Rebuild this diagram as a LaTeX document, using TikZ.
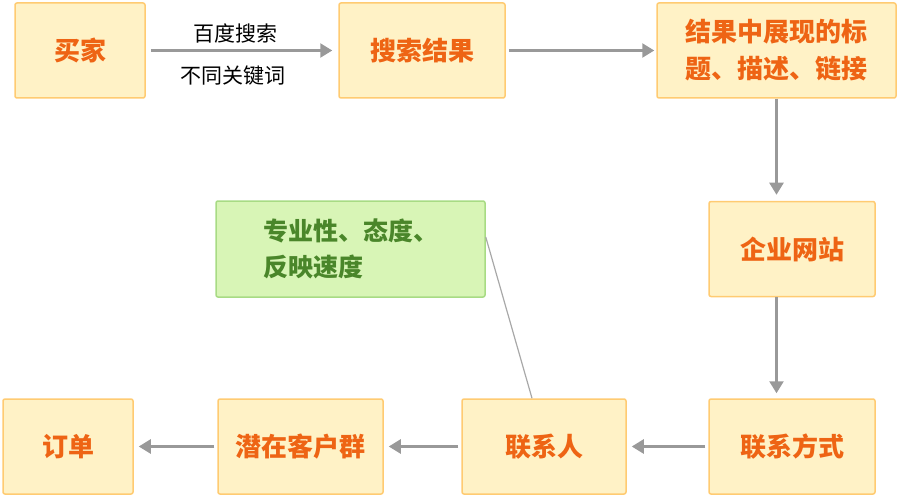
\documentclass[tikz,border=0pt]{standalone}
\usepackage{fontspec}
\setmainfont{Noto Sans CJK SC}
\usetikzlibrary{arrows.meta}

\definecolor{boxfill}{HTML}{FFF2C6}
\definecolor{boxline}{HTML}{FFCB72}
\definecolor{steptext}{HTML}{EE6414}
\definecolor{notefill}{HTML}{D8F5B6}
\definecolor{noteline}{HTML}{A8DB84}
\definecolor{notetext}{HTML}{4A862A}
\definecolor{flowgray}{HTML}{999999}

\tikzstyle{stepbox} = [draw=boxline, fill=boxfill, line width=1.5pt, rectangle, rounded corners=2pt, inner sep=0pt, minimum height=95pt, align=center, text=steptext, font=\fontsize{26}{37}\selectfont\bfseries]
\tikzstyle{notebox} = [draw=noteline, fill=notefill, line width=1.5pt, rectangle, rounded corners=2pt, inner sep=0pt, minimum width=269pt, minimum height=96pt, align=left, text=notetext, font=\fontsize{25}{36}\selectfont\bfseries]
\tikzstyle{flow} = [draw=flowgray, line width=2.4pt, shorten <=3pt, shorten >=5pt, -{Triangle[width=14pt,length=12pt]}]
\tikzstyle{edgelabel} = [font=\fontsize{21}{24}\selectfont, text=black]

\begin{document}
\begin{tikzpicture}[x=1pt, y=-1pt]
	\useasboundingbox (0,0) rectangle (900,500);
	\node [stepbox, minimum width=130pt] (buyer) at (80,50.5) {买家};
	\node [stepbox, minimum width=166pt] (result) at (422,50.5) {搜索结果};
	\node [stepbox, minimum width=239pt] (display) at (776.5,50.5) {结果中展现的标\\题、描述、链接};
	\node [stepbox, minimum width=166pt] (site) at (792,249) {企业网站};
	\node [notebox] (note) at (350.5,249) {专业性、态度、\\反映速度};
	\node [stepbox, minimum width=166pt] (way) at (792,446.5) {联系方式};
	\node [stepbox, minimum width=164pt] (person) at (544,446.5) {联系人};
	\node [stepbox, minimum width=165pt] (crowd) at (300.5,446.5) {潜在客户群};
	\node [stepbox, minimum width=130pt] (order) at (68,446.5) {订单};

	\draw [flow, shorten <=5pt, shorten >=6pt] (buyer) -- (result)
		node [edgelabel, midway, xshift=-7pt, yshift=17pt] {百度搜索}
		node [edgelabel, midway, xshift=-9pt, yshift=-25pt] {不同关键词};
	\draw [flow, shorten >=2pt] (result) -- (display);
	\draw [flow, shorten <=0pt, shorten >=6pt] (display.south) -- (display.south |- site.north);
	\draw [flow, shorten <=0pt] (site.south -| display.south) -- (display.south |- way.north);
	\draw [flow] (way) -- (person);
	\draw [flow] (person) -- (crowd);
	\draw [flow] (crowd) -- (order);
	\draw [draw=flowgray!85, line width=1.2pt] ([yshift=12pt]note.east) -- ([xshift=-12pt]person.north);
\end{tikzpicture}
\end{document}
